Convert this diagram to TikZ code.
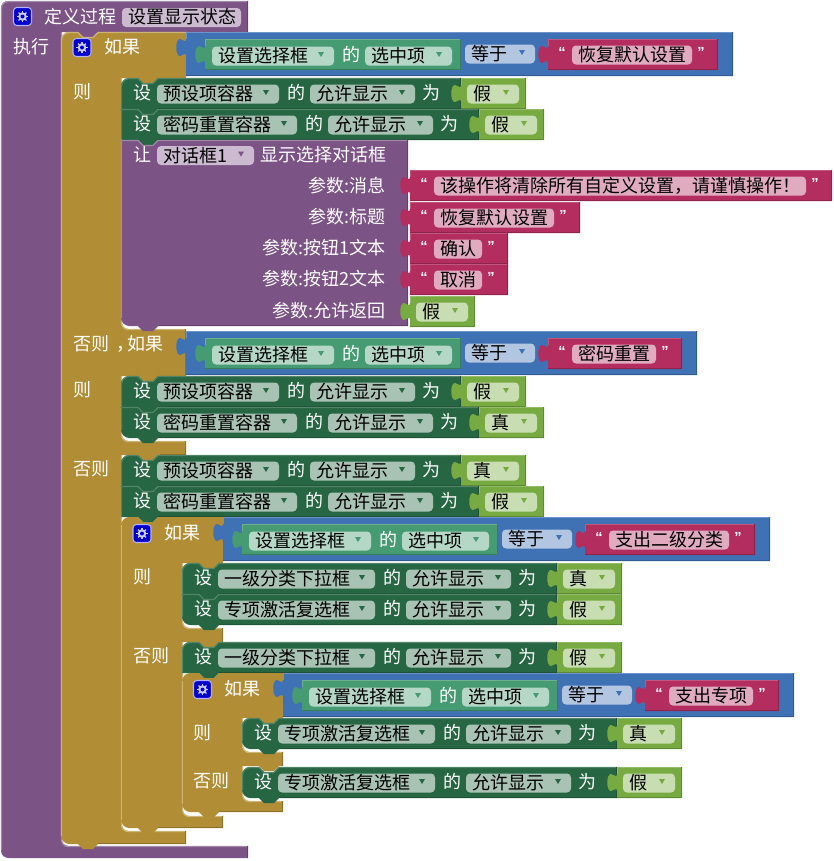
\documentclass[tikz,border=0pt]{standalone}
\usepackage{tikz}
\usepackage{fontspec}
\setmainfont{Noto Sans CJK SC}
\newfontfamily\quotefont{Liberation Sans}
\usetikzlibrary{calc}
\tikzstyle{every path}=[line width=1pt, line join=round]
\tikzstyle{lbl}=[inner sep=0pt, text=white, font=\fontsize{13.5}{16}\selectfont, text height=12pt, text depth=2pt, anchor=west]
\tikzstyle{lblr}=[lbl, anchor=east]
\tikzstyle{qmark}=[inner sep=0pt, text=white, font=\quotefont\fontsize{11}{14}\selectfont\bfseries]
\tikzstyle{iconbox}=[draw=white!70!blue, fill=blue!80!black, rounded corners=2.5pt, minimum size=13.5pt, inner sep=0pt, line width=0.8pt]
%colores
\definecolor{cproc}{HTML}{7C5385}
\definecolor{cprocL}{HTML}{A086A9}
\definecolor{cprocD}{HTML}{634269}
\definecolor{cprocF}{HTML}{CBBAD0}
\definecolor{cif}{HTML}{B18E35}
\definecolor{cifL}{HTML}{CDB475}
\definecolor{cifD}{HTML}{8E722A}
\definecolor{ccmp}{HTML}{3F71B5}
\definecolor{ccmpL}{HTML}{6D93CB}
\definecolor{ccmpD}{HTML}{325A91}
\definecolor{ccmpF}{HTML}{B2C6E1}
\definecolor{cget}{HTML}{479B73}
\definecolor{cgetL}{HTML}{6FB08F}
\definecolor{cgetD}{HTML}{387C5C}
\definecolor{cgetF}{HTML}{B5D7C6}
\definecolor{cset}{HTML}{266643}
\definecolor{csetL}{HTML}{528468}
\definecolor{csetD}{HTML}{1E5236}
\definecolor{csetF}{HTML}{A8C2B3}
\definecolor{cbool}{HTML}{77AB41}
\definecolor{cboolL}{HTML}{92BC67}
\definecolor{cboolD}{HTML}{5F8934}
\definecolor{cboolF}{HTML}{C9DDB3}
\definecolor{cstr}{HTML}{B32D5E}
\definecolor{cstrL}{HTML}{C2577E}
\definecolor{cstrD}{HTML}{8F244B}
\definecolor{cstrF}{HTML}{E1ABBF}
%campo con triangulo
\newcommand{\dropf}[7]{%
  \fill[#6, rounded corners=3pt] (#2,#3-9.5) rectangle (#2+#4,#3+9.5);
  \node[lbl, text=black] (#1) at (#2+6,#3) {#5};
  \fill[#7] (#2+#4-16,#3-4) -- (#2+#4-10,#3-4) -- (#2+#4-13,#3+1) -- cycle;
}
%bloque de valor
\newcommand{\valshape}[5]{%
  \fill[#5] (#1,#2) -- (#1+#3,#2) -- (#1+#3,#2+#4) -- (#1,#2+#4) -- (#1,#2+24)
    .. controls (#1,#2+20) and (#1-3,#2+23) .. (#1-6,#2+24)
    .. controls (#1-11,#2+24) and (#1-11,#2+7) .. (#1-6,#2+7)
    .. controls (#1-3,#2+8) and (#1,#2+11) .. (#1,#2+7) -- cycle;
  \draw[#5L] (#1+.5,#2+7) -- (#1+.5,#2+.5) -- (#1+#3,#2+.5);
  \draw[#5D] (#1+#3-.5,#2) -- (#1+#3-.5,#2+#4-.5) -- (#1,#2+#4-.5);
}
%bloque de sentencia
\newcommand{\stmtshape}[7]{%
  \fill[#5] (#1,#2+#6) .. controls (#1,#2+#6/2) and (#1+#6/2,#2) .. (#1+#6,#2)
    -- (#1+17,#2) -- (#1+22,#2+5) -- (#1+32,#2+5) -- (#1+37,#2) -- (#1+#3,#2)
    -- (#1+#3,#2+#4) -- (#1+37,#2+#4) -- (#1+32,#2+#4+5) -- (#1+22,#2+#4+5) -- (#1+17,#2+#4)
    -- (#1+#7,#2+#4) .. controls (#1+#7/2,#2+#4) and (#1,#2+#4-#7/2) .. (#1,#2+#4-#7) -- cycle;
  \draw[#5L] (#1+.5,#2+#4-#7) -- (#1+.5,#2+#6) .. controls (#1+.5,#2+#6/2) and (#1+#6/2,#2+.5) .. (#1+#6,#2+.5)
    -- (#1+17,#2+.5) -- (#1+22,#2+5.5) -- (#1+32,#2+5.5) -- (#1+37,#2+.5) -- (#1+#3,#2+.5);
  \draw[#5D] (#1+#3-.5,#2) -- (#1+#3-.5,#2+#4-.5) -- (#1+37,#2+#4-.5);
}
%verdadero falso
\newcommand{\boolblock}[4]{%
  \valshape{#2}{#3}{65}{31}{cbool}
  \dropf{#1}{#2+6}{#3+16}{52}{#4}{cboolF}{cbool}
}
%texto
\newcommand{\strblock}[5]{%
  \valshape{#2}{#3}{#5+50}{31}{cstr}
  \fill[cstrF, rounded corners=3pt] (#2+24,#3+6.5) rectangle (#2+24+#5,#3+25.5);
  \node[lbl, text=black] (#1) at (#2+30,#3+16) {#4};
  \node[qmark] (#1o) at (#2+14,#3+13) {“};
  \node[qmark] (#1c) at (#2+33+#5,#3+13) {”};
}
%fila establecer
\newcommand{\setrow}[9]{%
  \stmtshape{#2}{#3}{#4+179+39}{31}{cset}{#8}{#9}
  \node[lbl] (#1a) at (#2+12,#3+15) {设};
  \dropf{#1b}{#2+36}{#3+16}{#4}{#5}{csetF}{cset}
  \node[lbl] (#1c) at (#2+#4+44,#3+15) {的};
  \dropf{#1d}{#2+#4+67}{#3+16}{105}{允许显示}{csetF}{cset}
  \node[lbl] (#1e) at (#2+#4+179,#3+15) {为};
  \boolblock{#1f}{#2+#4+218}{#3}{#6}
}
%comparacion
\newcommand{\cmpblock}[5]{%
  \valshape{#2}{#3}{#5+377}{44}{ccmp}
  \valshape{#2+19}{#3+7}{256}{31}{cget}
  \dropf{#1a}{#2+26}{#3+24}{122}{设置选择框}{cgetF}{cget}
  \node[lbl] (#1b) at (#2+156,#3+23) {的};
  \dropf{#1c}{#2+179}{#3+24}{87}{选中项}{cgetF}{cget}
  \dropf{#1d}{#2+279}{#3+22}{70}{等于}{ccmpF}{ccmp}
  \strblock{#1e}{#2+362}{#3+7}{#4}{#5-50}
}
%icono
\newcommand{\gearicon}[3]{%
  \node[iconbox] (#1) at (#2,#3) {};
  \foreach \a in {0,45,...,315} \draw[white!80!blue, line width=1pt] (#1.center) ++(\a:3) -- ++(\a:2.6);
  \fill[white!80!blue] (#1.center) circle[radius=4.3];
  \fill[blue!80!black] (#1.center) circle[radius=2];
}
%trozos del contorno si
\newcommand{\ifhead}[3]{(#1,#2+8) .. controls (#1,#2+4) and (#1+4,#2) .. (#1+8,#2)
  -- (#1+17,#2) -- (#1+22,#2+5) -- (#1+32,#2+5) -- (#1+37,#2) -- (#3,#2)}
\newcommand{\cav}[4]{-- (#4,#2) -- (#1+37,#2) -- (#1+32,#2+5) -- (#1+22,#2+5) -- (#1+17,#2) -- (#1,#2)
  -- (#1,#3-7) .. controls (#1,#3-3) and (#1+3,#3) .. (#1+7,#3) -- (#4,#3)}
\newcommand{\iftail}[3]{-- (#3,#2) -- (#1+37,#2) -- (#1+32,#2+5) -- (#1+22,#2+5) -- (#1+17,#2) -- (#1+8,#2)
  .. controls (#1+4,#2) and (#1,#2-4) .. (#1,#2-8) -- cycle}
\newcommand{\cavedge}[5]{%
  \draw[cifL] (#1+.5,#2) -- (#1+.5,#3-7) .. controls (#1+.5,#3-3) and (#1+3,#3+.5) .. (#1+7,#3+.5) -- (#4,#3+.5);
  \draw[cifD] (#4-.5,#3) -- (#4-.5,#5);
}
\begin{document}
\begin{tikzpicture}[x=0.75pt,y=-0.75pt]
  \useasboundingbox (0,0) rectangle (834,861);
  %definir procedimiento
  \fill[cproc] (1,9) .. controls (1,4) and (4,1) .. (9,1) -- (248,1) -- (248,32)
    -- (98,32) -- (93,37) -- (83,37) -- (78,32) -- (61,32) -- (61,839)
    .. controls (61,843) and (64,846) .. (68,846) -- (248,846) -- (248,858) -- (9,858)
    .. controls (4,858) and (1,855) .. (1,850) -- cycle;
  \draw[cprocL] (1.5,850) -- (1.5,9) .. controls (1.5,4) and (4,1.5) .. (9,1.5) -- (248,1.5);
  \draw[cprocL] (61.5,32) -- (61.5,839) .. controls (61.5,843) and (64,846.5) .. (68,846.5) -- (248,846.5);
  \draw[cprocD] (247.5,1) -- (247.5,32);
  \draw[cprocD] (247.5,846) -- (247.5,857.5);
  \gearicon{iconproc}{22.5}{16.5}
  \node[lbl] (defproc) at (44,17) {定义过程};
  \fill[cprocF, rounded corners=3pt] (122,8) rectangle (241,27);
  \node[lbl, text=black] (procname) at (128,17) {设置显示状态};
  \node[lbl] (doproc) at (13,47) {执行};
  %si exterior
  \fill[cif] \ifhead{61}{32}{186} \cav{121}{78}{329}{186} \cav{121}{376}{441}{186} \cav{121}{455}{831}{186} \iftail{61}{844}{186};
  \draw[cifL] (61.5,836) -- (61.5,40) .. controls (61.5,36) and (65,32.5) .. (69,32.5) -- (78,32.5) -- (83,37.5) -- (93,37.5) -- (98,32.5) -- (186,32.5);
  \cavedge{121}{78}{329}{186}{376}
  \cavedge{121}{376}{441}{186}{455}
  \cavedge{121}{455}{831}{186}{844}
  \draw[cifD] (186,843.5) -- (98,843.5);
  \draw[cifD] (186,454.5) -- (160,454.5);
  \gearicon{iconifa}{82}{47.5}
  \node[lbl] (ifa) at (104,47) {如果};
  \node[lbl] (thena) at (73,92) {则};
  \node[lbl] (elifa) at (73,344) {否则\kern5pt，\kern-5pt如果};
  \node[lbl] (thenb) at (73,390) {则};
  \node[lbl] (elsea) at (73,469) {否则};
  \cmpblock{cmpa}{186}{32}{恢复默认设置}{170}
  \cmpblock{cmpb}{186}{331}{密码重置}{134}
  %primer caso
  \setrow{rowa}{121}{78}{122}{预设项容器}{假}{x}{8}{0}
  \setrow{rowb}{121}{109}{140}{密码重置容器}{假}{x}{0}{0}
  %dialogo
  \stmtshape{121}{140}{287}{186}{cproc}{0}{8}
  \node[lbl] (diala) at (133,155) {让};
  \dropf{dialb}{157}{155.5}{97}{对话框1}{cprocF}{cproc}
  \node[lbl] (dialc) at (260,155) {显示选择对话框};
  \node[lblr] (parama) at (386,186) {参数:消息};
  \node[lblr] (paramb) at (386,217) {参数:标题};
  \node[lblr] (paramc) at (386,248) {参数:按钮1文本};
  \node[lblr] (paramd) at (386,279) {参数:按钮2文本};
  \node[lblr] (parame) at (386,311) {参数:允许返回};
  \strblock{stra}{410}{170}{该操作将清除所有自定义设置，请谨慎操作！}{372}
  \strblock{strb}{410}{202}{恢复默认设置}{120}
  \strblock{strc}{410}{233}{确认}{48}
  \strblock{strd}{410}{264}{取消}{48}
  \boolblock{boola}{410}{296}{假}
  %segundo caso
  \setrow{rowc}{121}{376}{122}{预设项容器}{假}{x}{8}{0}
  \setrow{rowd}{121}{407}{140}{密码重置容器}{真}{x}{0}{8}
  %tercer caso
  \setrow{rowe}{121}{455}{122}{预设项容器}{真}{x}{8}{0}
  \setrow{rowf}{121}{486}{140}{密码重置容器}{假}{x}{0}{0}
  %si interior
  \fill[cif] \ifhead{121}{517}{223} \cav{182}{563}{628}{223} \cav{182}{642}{816}{223} \iftail{121}{828}{223};
  \draw[cifL] (121.5,820) -- (121.5,525);
  \cavedge{182}{563}{628}{223}{642}
  \cavedge{182}{642}{816}{223}{828}
  \draw[cifD] (223,827.5) -- (158,827.5);
  \gearicon{iconifb}{142}{533.5}
  \node[lbl] (ifb) at (164,533) {如果};
  \node[lbl] (thenc) at (133,577) {则};
  \node[lbl] (elseb) at (133,656) {否则};
  \cmpblock{cmpc}{223}{517}{支出二级分类}{170}
  \setrow{rowg}{182}{563}{157}{一级分类下拉框}{真}{x}{8}{0}
  \setrow{rowh}{182}{594}{157}{专项激活复选框}{假}{x}{0}{8}
  \setrow{rowi}{182}{642}{157}{一级分类下拉框}{假}{x}{8}{0}
  %si mas interior
  \fill[cif] \ifhead{182}{673}{283} \cav{242}{718}{752}{283} \cav{242}{766}{801}{283} \iftail{182}{812}{283};
  \draw[cifL] (182.5,804) -- (182.5,681);
  \cavedge{242}{718}{752}{283}{766}
  \cavedge{242}{766}{801}{283}{812}
  \draw[cifD] (283,811.5) -- (219,811.5);
  \gearicon{iconifc}{202.5}{689.5}
  \node[lbl] (ifc) at (224,689) {如果};
  \node[lbl] (thend) at (193,733) {则};
  \node[lbl] (elsec) at (193,781) {否则};
  \cmpblock{cmpd}{283}{673}{支出专项}{134}
  \setrow{rowj}{242}{718}{157}{专项激活复选框}{真}{x}{8}{8}
  \setrow{rowk}{242}{767}{157}{专项激活复选框}{假}{x}{8}{8}
\end{tikzpicture}
\end{document}
